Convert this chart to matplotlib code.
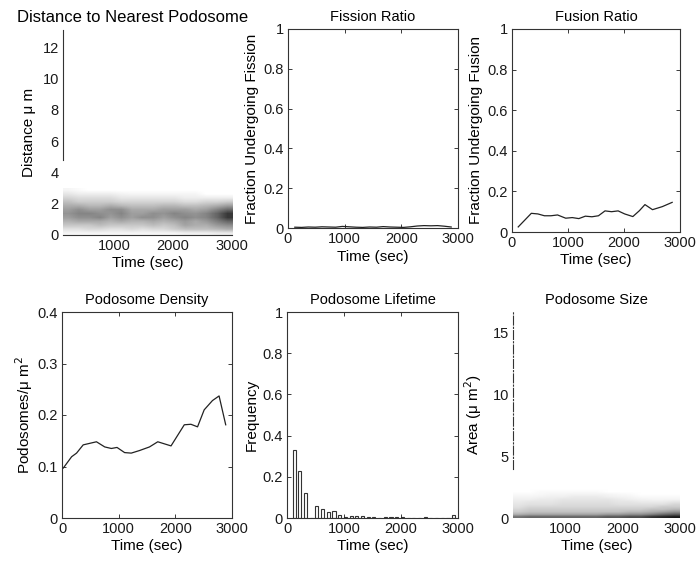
import numpy as np
import matplotlib.pyplot as plt
from matplotlib.ticker import FormatStrFormatter

plt.rcParams['font.family'] = ['Liberation Sans', 'DejaVu Sans']

# fusion ratio
fus_t = [111, 345, 462, 579, 696, 813, 959, 1076, 1193, 1310, 1427, 1544,
         1661, 1778, 1895, 2012, 2158, 2275, 2374, 2509, 2684, 2860]
fus_v = [0.025, 0.092, 0.089, 0.080, 0.080, 0.084, 0.068, 0.071, 0.066, 0.078, 0.075, 0.080,
         0.104, 0.100, 0.104, 0.089, 0.076, 0.105, 0.135, 0.110, 0.125, 0.146]

# fission ratio, nearly flat at zero
fis_t = [120, 240, 360, 480, 600, 720, 840, 960, 1080, 1200, 1320, 1440,
         1560, 1680, 1800, 1920, 2040, 2160, 2280, 2400, 2520, 2640, 2760, 2880]
fis_v = [0.004, 0.003, 0.005, 0.004, 0.006, 0.005, 0.004, 0.008, 0.006, 0.004, 0.003, 0.005,
         0.004, 0.007, 0.005, 0.004, 0.003, 0.006, 0.010, 0.012, 0.011, 0.012, 0.009, 0.005]

# podosome density
den_t = [23, 170, 257, 374, 491, 608, 754, 871, 971, 1105, 1222, 1368,
         1544, 1690, 1924, 2158, 2275, 2392, 2509, 2655, 2772, 2889]
den_v = [0.097, 0.119, 0.126, 0.142, 0.145, 0.148, 0.138, 0.135, 0.137, 0.127, 0.126, 0.131,
         0.138, 0.148, 0.140, 0.181, 0.182, 0.177, 0.210, 0.228, 0.237, 0.181]

# lifetime histogram
life_t = [125, 225, 325, 425, 525, 625, 725, 825, 925, 1025, 1125, 1225, 1325, 1425, 1525,
          1625, 1725, 1825, 1925, 2025, 2125, 2225, 2325, 2425, 2525, 2625, 2725, 2825, 2925]
life_f = [0.33, 0.228, 0.12, 0.0, 0.06, 0.042, 0.028, 0.032, 0.013, 0.005, 0.008, 0.011, 0.008,
          0.007, 0.006, 0.002, 0.003, 0.003, 0.004, 0.005, 0.002, 0.001, 0.002, 0.004, 0.002,
          0.001, 0.002, 0.0, 0.014]

# distance to nearest podosome: gray density, rows = 0.25 um bins (0..3), cols = time bins (130..3000)
dist_grid = np.array([
    [0.04, 0.04, 0.04, 0.04, 0.04, 0.04, 0.04, 0.04, 0.04, 0.04, 0.04, 0.06, 0.06, 0.06, 0.08, 0.08],
    [0.12, 0.12, 0.15, 0.15, 0.12, 0.12, 0.15, 0.12, 0.15, 0.15, 0.20, 0.25, 0.25, 0.25, 0.28, 0.32],
    [0.22, 0.22, 0.22, 0.26, 0.22, 0.22, 0.22, 0.22, 0.26, 0.22, 0.26, 0.36, 0.32, 0.32, 0.40, 0.45],
    [0.30, 0.34, 0.34, 0.34, 0.30, 0.34, 0.30, 0.30, 0.34, 0.30, 0.34, 0.40, 0.34, 0.40, 0.50, 0.60],
    [0.38, 0.44, 0.44, 0.48, 0.38, 0.44, 0.38, 0.44, 0.44, 0.38, 0.44, 0.48, 0.44, 0.48, 0.60, 0.78],
    [0.42, 0.48, 0.48, 0.44, 0.42, 0.48, 0.38, 0.38, 0.44, 0.42, 0.48, 0.44, 0.42, 0.48, 0.60, 0.78],
    [0.38, 0.44, 0.38, 0.38, 0.44, 0.44, 0.34, 0.34, 0.34, 0.38, 0.38, 0.38, 0.34, 0.38, 0.48, 0.58],
    [0.32, 0.32, 0.28, 0.28, 0.32, 0.28, 0.25, 0.25, 0.25, 0.28, 0.28, 0.25, 0.25, 0.28, 0.32, 0.38],
    [0.25, 0.20, 0.20, 0.20, 0.20, 0.17, 0.17, 0.17, 0.17, 0.17, 0.17, 0.14, 0.14, 0.17, 0.17, 0.20],
    [0.17, 0.14, 0.14, 0.14, 0.14, 0.10, 0.10, 0.10, 0.10, 0.10, 0.10, 0.07, 0.07, 0.07, 0.07, 0.07],
    [0.10, 0.07, 0.07, 0.07, 0.07, 0.05, 0.04, 0.04, 0.04, 0.04, 0.04, 0.04, 0.04, 0.00, 0.00, 0.00],
    [0.04, 0.02, 0.00, 0.00, 0.00, 0.00, 0.00, 0.00, 0.00, 0.00, 0.00, 0.00, 0.00, 0.00, 0.00, 0.00],
])
dist_ext = [130, 3000, 0, 3.0]

# podosome size: rows = 0.2 um^2 bins (0..2.4), cols = time bins (100..3000)
size_grid = np.array([
    [0.55, 0.60, 0.60, 0.60, 0.60, 0.60, 0.60, 0.60, 0.65, 0.65, 0.70, 0.70, 0.80, 0.85, 0.90],
    [0.30, 0.34, 0.34, 0.34, 0.34, 0.34, 0.34, 0.34, 0.38, 0.38, 0.42, 0.42, 0.48, 0.56, 0.62],
    [0.20, 0.24, 0.24, 0.24, 0.24, 0.24, 0.24, 0.24, 0.24, 0.24, 0.28, 0.28, 0.32, 0.36, 0.42],
    [0.16, 0.20, 0.20, 0.20, 0.20, 0.20, 0.20, 0.20, 0.20, 0.20, 0.20, 0.20, 0.24, 0.24, 0.28],
    [0.12, 0.16, 0.16, 0.16, 0.16, 0.16, 0.16, 0.16, 0.16, 0.16, 0.16, 0.16, 0.16, 0.20, 0.20],
    [0.10, 0.12, 0.12, 0.12, 0.14, 0.14, 0.14, 0.14, 0.14, 0.12, 0.12, 0.12, 0.12, 0.12, 0.16],
    [0.08, 0.10, 0.10, 0.10, 0.12, 0.12, 0.12, 0.12, 0.12, 0.10, 0.10, 0.08, 0.08, 0.08, 0.10],
    [0.06, 0.06, 0.08, 0.08, 0.10, 0.10, 0.10, 0.10, 0.10, 0.08, 0.06, 0.05, 0.04, 0.04, 0.04],
    [0.04, 0.04, 0.05, 0.06, 0.06, 0.08, 0.08, 0.08, 0.06, 0.05, 0.04, 0.02, 0.02, 0.02, 0.02],
    [0.02, 0.02, 0.03, 0.04, 0.04, 0.05, 0.05, 0.05, 0.04, 0.03, 0.02, 0.00, 0.00, 0.00, 0.00],
    [0.00, 0.00, 0.02, 0.02, 0.02, 0.02, 0.02, 0.02, 0.00, 0.00, 0.00, 0.00, 0.00, 0.00, 0.00],
    [0.00, 0.00, 0.00, 0.00, 0.00, 0.00, 0.00, 0.00, 0.00, 0.00, 0.00, 0.00, 0.00, 0.00, 0.00],
])
size_ext = [100, 3000, 0, 2.4]

W, H = 697, 562
fig = plt.figure(figsize=(W / 100, H / 100), dpi=100)


def box(l, t, r, b):
    return fig.add_axes([l / W, 1 - b / H, (r - l) / W, (b - t) / H])


FS_T = 10.5
FS_L = 11
FS_K = 10.5
LC = '#222222'


def style(ax, framed=True):
    ax.tick_params(direction='in', length=3, width=0.6, labelsize=FS_K, pad=3,
                   top=framed, right=framed, colors='#1a1a1a')
    for s in ax.spines.values():
        s.set_linewidth(0.8)
        s.set_color('#333333')
    ax.yaxis.set_major_formatter(FormatStrFormatter('%g'))


# 1 distance
ax1 = box(63, 30, 232, 235)
ax1.imshow(dist_grid, origin='lower', extent=dist_ext, aspect='auto', cmap='gray_r',
           vmin=0, vmax=1, interpolation='bilinear')
ax1.set_xlim(130, 3000)
ax1.set_ylim(0, 13.1)
ax1.set_xticks([1000, 2000, 3000])
ax1.set_yticks([0, 2, 4, 6, 8, 10, 12])
style(ax1, framed=False)
ax1.tick_params(length=0)
ax1.spines['top'].set_visible(False)
ax1.spines['right'].set_visible(False)
ax1.spines['left'].set_bounds(4.8, 13.1)
ax1.set_title('Distance to Nearest Podosome', fontsize=12, pad=6, x=(133 - 63) / 169)
ax1.set_xlabel('Time (sec)', fontsize=FS_L, labelpad=2)
ax1.set_ylabel('Distance μ m', fontsize=FS_L, labelpad=5)

# 2 fission
ax2 = box(288, 29, 458, 228)
ax2.plot(fis_t, fis_v, color=LC, lw=0.9)
ax2.set_xlim(0, 3000)
ax2.set_ylim(0, 1)
ax2.set_xticks([0, 1000, 2000, 3000])
ax2.set_yticks([0, 0.2, 0.4, 0.6, 0.8, 1])
style(ax2)
ax2.set_title('Fission Ratio', fontsize=FS_T, pad=6)
ax2.set_xlabel('Time (sec)', fontsize=FS_L, labelpad=3)
ax2.set_ylabel('Fraction Undergoing Fission', fontsize=FS_L, labelpad=3)

# 3 fusion
ax3 = box(512, 29, 680, 232)
ax3.plot(fus_t, fus_v, color=LC, lw=0.9)
ax3.set_xlim(0, 3000)
ax3.set_ylim(0, 1)
ax3.set_xticks([0, 1000, 2000, 3000])
ax3.set_yticks([0, 0.2, 0.4, 0.6, 0.8, 1])
style(ax3)
ax3.set_title('Fusion Ratio', fontsize=FS_T, pad=6)
ax3.set_xlabel('Time (sec)', fontsize=FS_L, labelpad=2)
ax3.set_ylabel('Fraction Undergoing Fusion', fontsize=FS_L, labelpad=3)

# 4 density
ax4 = box(62, 312, 232, 518)
ax4.plot(den_t, den_v, color=LC, lw=0.9)
ax4.set_xlim(0, 3000)
ax4.set_ylim(0, 0.4)
ax4.set_xticks([0, 1000, 2000, 3000])
ax4.set_yticks([0, 0.1, 0.2, 0.3, 0.4])
style(ax4)
ax4.set_title('Podosome Density', fontsize=FS_T, pad=6)
ax4.set_xlabel('Time (sec)', fontsize=FS_L, labelpad=2)
ax4.set_ylabel('Podosomes/μ m$^2$', fontsize=FS_L, labelpad=2)

# 5 lifetime
ax5 = box(287, 312, 458, 518)
ax5.bar(life_t, life_f, width=55, color='white', edgecolor='#333333', linewidth=0.8)
ax5.set_xlim(0, 3000)
ax5.set_ylim(0, 1)
ax5.set_xticks([0, 1000, 2000, 3000])
ax5.set_yticks([0, 0.2, 0.4, 0.6, 0.8, 1])
style(ax5)
ax5.set_title('Podosome Lifetime', fontsize=FS_T, pad=6)
ax5.set_xlabel('Time (sec)', fontsize=FS_L, labelpad=2)
ax5.set_ylabel('Frequency', fontsize=FS_L, labelpad=3)

# 6 size
ax6 = box(513, 312, 680, 518)
ax6.imshow(size_grid, origin='lower', extent=size_ext, aspect='auto', cmap='gray_r',
           vmin=0, vmax=1, interpolation='bilinear')
ax6.set_xlim(100, 3000)
ax6.set_ylim(0, 16.7)
ax6.set_xticks([1000, 2000, 3000])
ax6.set_yticks([0, 5, 10, 15])
style(ax6, framed=False)
ax6.tick_params(length=0)
for s in ['top', 'right', 'bottom']:
    ax6.spines[s].set_visible(False)
ax6.spines['left'].set_linestyle((0, (8, 2, 1, 2)))
ax6.spines['left'].set_bounds(4.0, 16.7)
ax6.set_title('Podosome Size', fontsize=FS_T, pad=6)
ax6.set_xlabel('Time (sec)', fontsize=FS_L, labelpad=2)
ax6.set_ylabel('Area (μ m$^2$)', fontsize=FS_L, labelpad=6)

fig.savefig('out.png', dpi=100)
